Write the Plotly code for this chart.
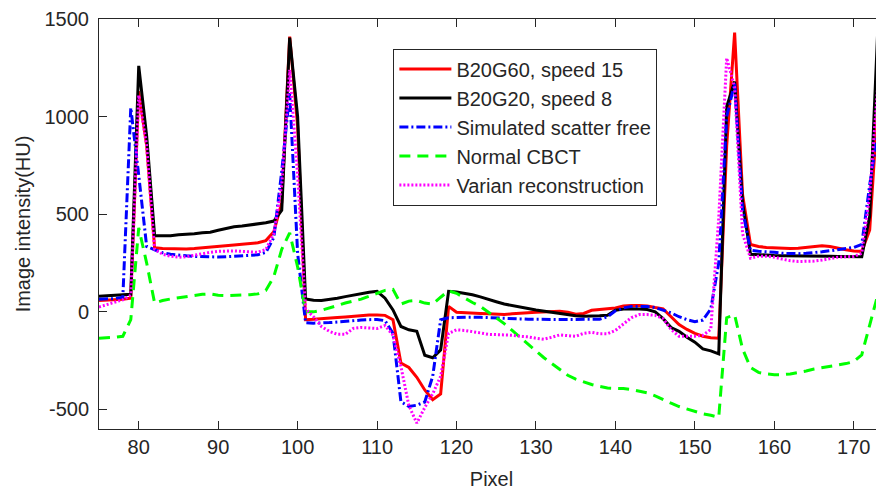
import plotly.graph_objects as go

pixel = list(range(75, 175))

b20g60_speed15 = [58, 60, 62, 65, 70, 1130, 850, 328, 325, 323,
                  322, 322, 324, 327, 330, 334, 338, 342, 346, 350,
                  354, 365, 410, 560, 1410, 950, -40, -38, -36, -32,
                  -29, -26, -22, -18, -16, -16, -18, -40, -262, -285,
                  -335, -400, -450, -420, 28, -2, -5, -6, -8, -10,
                  -12, -14, -10, -6, -4, -2, 0, 2, 3, -2,
                  -12, -8, 8, 12, 15, 20, 30, 33, 32, 30,
                  22, 15, -25, -65, -90, -110, -125, -133, -135, 850,
                  1430, 600, 345, 335, 330, 328, 326, 325, 326, 330,
                  335, 338, 335, 325, 318, 312, 310, 420, 1050, 500]

b20g20_speed8 = [80, 82, 83, 85, 90, 1260, 900, 390, 390, 390,
                 395, 397, 400, 405, 408, 418, 428, 436, 440, 445,
                 450, 456, 465, 520, 1405, 1000, 66, 60, 58, 63,
                 70, 78, 86, 94, 100, 105, 70, 10, -75, -92,
                 -100, -222, -235, -195, 105, 102, 96, 88, 77, 66,
                 52, 40, 31, 24, 17, 10, 4, -3, -10, -16,
                 -20, -22, -22, -20, -18, 8, 14, 16, 14, 12,
                 0, -35, -80, -100, -130, -155, -190, -200, -215, 1050,
                 1180, 560, 295, 292, 290, 289, 288, 288, 288, 288,
                 287, 286, 285, 284, 283, 282, 282, 490, 1430, 0]

scatter_free = [65, 66, 68, 75, 1045, 700, 335, 318, 303, 295,
                290, 287, 284, 282, 281, 281, 282, 284, 286, 288,
                292, 305, 380, 720, 1120, 300, -55, -58, -58, -55,
                -52, -48, -45, -42, -40, -39, -45, -110, -460, -485,
                -478, -462, -330, -40, -30, -28, -27, -27, -28, -29,
                -30, -32, -34, -36, -38, -39, -39, -39, -39, -39,
                -39, -39, -39, -38, -25, 5, 20, 28, 28, 27,
                22, 10, -5, -25, -40, -50, -42, 15, 250, 1000,
                1170, 520, 315, 310, 308, 305, 300, 298, 298, 300,
                303, 308, 313, 318, 325, 330, 345, 650, 920, 860]

normal_cbct = [-135, -133, -130, -125, -40, 430, 250, 45, 58, 66,
               72, 76, 82, 90, 92, 85, 83, 84, 86, 88,
               92, 110, 180, 320, 405, 230, 0, 0, 8, 20,
               35, 45, 55, 65, 80, 95, 110, 115, 40, 55,
               58, 45, 40, 75, 108, 95, 70, 48, 28, 0,
               -30, -60, -95, -130, -160, -200, -235, -265, -295, -325,
               -345, -360, -372, -382, -390, -392, -393, -398, -405, -415,
               -430, -450, -468, -485, -497, -512, -522, -530, -540, -30,
               -15, -190, -285, -310, -318, -322, -322, -318, -312, -303,
               -293, -285, -278, -272, -265, -255, -220, -60, 85, -450]

varian_recon = [25, 38, 50, 62, 85, 1110, 850, 320, 295, 285,
                280, 282, 290, 298, 305, 310, 312, 312, 310, 308,
                305, 320, 400, 650, 1240, 700, 15, -25, -75, -100,
                -115, -115, -85, -80, -82, -85, -70, -120, -280, -480,
                -570, -490, -420, -330, -110, -92, -95, -100, -108, -115,
                -116, -116, -120, -125, -128, -135, -140, -130, -118, -122,
                -125, -110, -105, -112, -112, -95, -60, -30, -14, -14,
                -18, -35, -90, -125, -125, -125, -120, -90, 480, 1300,
                1150, 400, 275, 285, 285, 280, 270, 262, 258, 258,
                260, 265, 272, 280, 282, 284, 300, 600, 1150, 500]

x_ticks = [80, 90, 100, 110, 120, 130, 140, 150, 160, 170]
y_ticks = [-500, 0, 500, 1000, 1500]
y_tick_text = ["-500", "0", "500", "1000", "1500"]

series = [
    ("B20G60, speed 15", b20g60_speed15, "#FF0000", "solid"),
    ("B20G20, speed 8", b20g20_speed8, "#000000", "solid"),
    ("Simulated scatter free", scatter_free, "#0000FF", "9px,3px,2px,3px"),
    ("Normal CBCT", normal_cbct, "#00FF00", "11px,7px"),
    ("Varian reconstruction", varian_recon, "#FF00FF", "2px,2px"),
]

FONT = "Liberation Sans, Arial, sans-serif"
AX = "#262626"

fig = go.Figure()
for name, vals, color, dash in series:
    fig.add_trace(go.Scatter(
        x=pixel, y=vals, mode="lines", name=name,
        line=dict(color=color, width=3, dash=dash),
    ))

# the page body adds an 8px offset, so the figure is sized to fit the window
fig.update_layout(
    width=876, height=484,
    margin=dict(l=90.5, r=0, t=11, b=63, pad=0),
    paper_bgcolor="white", plot_bgcolor="white",
    font=dict(family=FONT, size=20, color=AX),
    showlegend=True,
    legend=dict(
        x=0.375, y=0.928, xanchor="left", yanchor="top",
        bordercolor=AX, borderwidth=1, bgcolor="white",
        font=dict(family=FONT, size=20, color=AX),
        itemwidth=52, tracegroupgap=0,
    ),
    xaxis=dict(
        range=[75, 173.8], tickmode="array", tickvals=x_ticks,
        ticks="inside", ticklen=8, tickwidth=1, tickcolor=AX,
        showline=True, linecolor=AX, linewidth=1, mirror="ticks",
        showgrid=False, zeroline=False, automargin=True,
        tickfont=dict(family=FONT, size=20, color=AX),
        title=dict(text="Pixel", font=dict(family=FONT, size=20, color=AX), standoff=14),
    ),
    yaxis=dict(
        range=[-600, 1500], tickmode="array", tickvals=y_ticks, ticktext=y_tick_text,
        ticks="inside", ticklen=8, tickwidth=1, tickcolor=AX,
        showline=True, linecolor=AX, linewidth=1, mirror="ticks",
        showgrid=False, zeroline=False, automargin=True,
        ticklabelstandoff=5,
        tickfont=dict(family=FONT, size=20, color=AX),
        title=dict(text="Image intensity(HU)", font=dict(family=FONT, size=20, color=AX), standoff=8),
    ),
)

fig.write_html("out.html")
